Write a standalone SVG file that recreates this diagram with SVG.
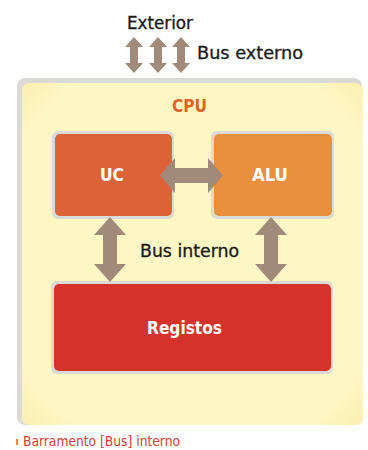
<svg xmlns="http://www.w3.org/2000/svg" width="368" height="450" viewBox="0 0 368 450">
  <defs>
    <radialGradient id="cpuFill" cx="50%" cy="50%" r="75%">
      <stop offset="0.8" stop-color="#fef7c4"/>
      <stop offset="1" stop-color="#f8eca9"/>
    </radialGradient>
    <style>
      .lbl { font-family: "DejaVu Sans Condensed", "DejaVu Sans", sans-serif; }
      .dark { fill: #1a1a1a; stroke: #1a1a1a; stroke-width: 0.3; }
      .white { fill: #ffffff; font-weight: bold; }
      .arrow { fill: #a28a7b; }
      .frame { fill: #dcdad6; }
    </style>
  </defs>

  <rect width="368" height="450" fill="#ffffff"/>

  <!-- CPU container -->
  <g id="cpu">
    <rect class="frame" x="17" y="78" width="345" height="347" rx="8"/>
    <rect x="22" y="83" width="341" height="342" rx="7" fill="url(#cpuFill)"/>
    <text class="lbl" x="189.5" y="112" text-anchor="middle" font-size="18" font-weight="bold" fill="#dc6430" textLength="35" lengthAdjust="spacingAndGlyphs">CPU</text>
  </g>

  <!-- Control unit -->
  <g id="uc">
    <rect class="frame" x="52" y="131" width="122" height="88" rx="6"/>
    <rect x="55" y="134" width="117" height="82" rx="5" fill="#dc6338"/>
    <text class="lbl white" x="112" y="181" text-anchor="middle" font-size="18" textLength="24" lengthAdjust="spacingAndGlyphs">UC</text>
  </g>

  <!-- Arithmetic logic unit -->
  <g id="alu">
    <rect class="frame" x="211" y="131" width="123" height="88" rx="6"/>
    <rect x="214" y="134" width="118" height="82" rx="5" fill="#e8903e"/>
    <text class="lbl white" x="270" y="181" text-anchor="middle" font-size="18" textLength="36" lengthAdjust="spacingAndGlyphs">ALU</text>
  </g>

  <!-- Registers -->
  <g id="registos">
    <rect class="frame" x="51" y="281" width="282" height="93" rx="6"/>
    <rect x="54" y="284" width="277" height="87" rx="5" fill="#d6322c"/>
    <text class="lbl white" x="184.5" y="334" text-anchor="middle" font-size="18" textLength="75" lengthAdjust="spacingAndGlyphs">Registos</text>
  </g>

  <!-- Bus connectors -->
  <g id="connectors">
    <!-- external bus -->
    <path class="arrow" d="M134,37 L143,47 L138,47 L138,63 L143,63 L134,73 L125,63 L130,63 L130,47 L125,47 Z"/>
    <path class="arrow" d="M158,37 L167,47 L162,47 L162,63 L167,63 L158,73 L149,63 L154,63 L154,47 L149,47 Z"/>
    <path class="arrow" d="M181,37 L190,47 L185,47 L185,63 L190,63 L181,73 L172,63 L177,63 L177,47 L172,47 Z"/>
    <!-- UC to ALU -->
    <path class="arrow" d="M160,175.5 L175,158 L175,168 L208,168 L208,158 L223,175.5 L208,193 L208,183 L175,183 L175,193 Z"/>
    <!-- UC to registers -->
    <path class="arrow" d="M110,217 L126,235 L117,235 L117,264 L126,264 L110,282 L94,264 L103,264 L103,235 L94,235 Z"/>
    <!-- ALU to registers -->
    <path class="arrow" d="M271,217 L287,235 L278,235 L278,264 L287,264 L271,282 L255,264 L264,264 L264,235 L255,235 Z"/>
  </g>

  <!-- Labels -->
  <g id="labels">
    <text class="lbl dark" x="127" y="29" font-size="17" textLength="66" lengthAdjust="spacingAndGlyphs">Exterior</text>
    <text class="lbl dark" x="197" y="59" font-size="18" textLength="106" lengthAdjust="spacingAndGlyphs">Bus externo</text>
    <text class="lbl dark" x="140" y="257" font-size="18" textLength="99" lengthAdjust="spacingAndGlyphs">Bus interno</text>
  </g>

  <!-- Caption -->
  <g id="caption">
    <rect x="16" y="439" width="2" height="6" fill="#e88a3c"/>
    <text class="lbl" x="23" y="446" font-size="13.5" fill="#c9433a" textLength="157" lengthAdjust="spacingAndGlyphs">Barramento [Bus] interno</text>
  </g>
</svg>
